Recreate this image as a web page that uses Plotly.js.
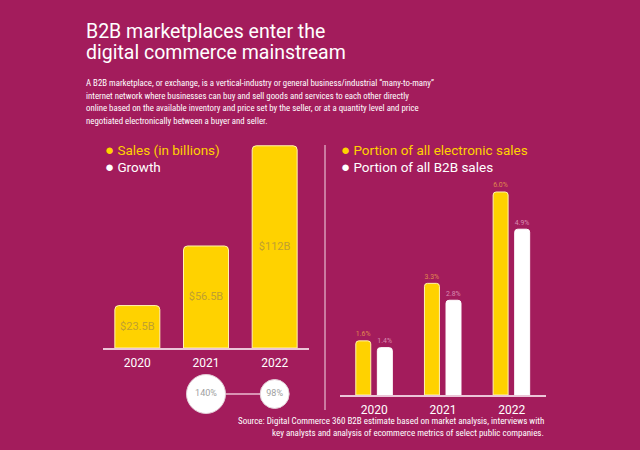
<!DOCTYPE html>
<html>
<head>
<meta charset="utf-8">
<script src="https://cdn.plot.ly/plotly-3.0.1.min.js"></script>
<style>
html,body{margin:0;padding:0;background:#A31C5C;}
#chart{width:640px;height:450px;}
</style>
</head>
<body>
<div id="chart"></div>
<script>
// ---- data (read / estimated from the picture) ----
const years = ['2020', '2021', '2022'];
const sales = [23.5, 56.5, 112];
const salesLabels = ['$23.5B', '$56.5B', '$112B'];
const growthYears = ['2021', '2022'];
const growth = [140, 98];
const growthLabels = ['140%', '98%'];
const elecShare = [1.6, 3.3, 6.0];
const elecLabels = ['1.6%', '3.3%', '6.0%'];
const b2bShare = [1.4, 2.8, 4.9];
const b2bLabels = ['1.4%', '2.8%', '4.9%'];

const titleLines = ['B2B marketplaces enter the', 'digital commerce mainstream'];
const descLines = [
  'A B2B marketplace, or exchange, is a vertical-industry or general business/industrial \u201cmany-to-many\u201d',
  'internet network where businesses can buy and sell goods and services to each other directly',
  'online based on the available inventory and price set by the seller, or at a quantity level and price',
  'negotiated electronically between a buyer and seller.'
];
const sourceLines = [
  'Source: Digital Commerce 360 B2B estimate based on market analysis, interviews with',
  'key analysts and analysis of ecommerce metrics of select public companies.'
];

// ---- style ----
const BG = '#A31C5C';
const YEL = '#FFD200';
const W = 640, H = 450;
const px = v => v / W;
const py = v => 1 - v / H;
const narrow = '"Liberation Sans Narrow", "Roboto Condensed", "DejaVu Sans Condensed", sans-serif';
const sans = 'Roboto, "Liberation Sans", sans-serif';

const traces = [
  {
    type: 'bar', x: years, y: sales, xaxis: 'x', yaxis: 'y',
    width: 0.655,
    marker: {color: YEL, line: {color: '#FFF3B0', width: 1}, cornerradius: 4},
    text: salesLabels, textposition: 'inside', insidetextanchor: 'middle',
    textfont: {color: '#BFA030', size: 11, family: sans},
    hoverinfo: 'skip', showlegend: false
  },
  {
    type: 'scatter', mode: 'lines+markers+text', x: growthYears, y: [0.5, 0.5],
    xaxis: 'x', yaxis: 'y3',
    line: {color: '#EBBBD1', width: 1.5},
    marker: {size: [39, 29], color: '#FFFFFF', opacity: 1, line: {color: '#E2CCD6', width: 1}},
    opacity: 1,
    text: growthLabels, textposition: 'middle center',
    textfont: {color: '#A0A0A0', size: 9, family: sans},
    customdata: growth,
    hoverinfo: 'skip', showlegend: false, cliponaxis: false
  },
  {
    type: 'bar', x: years, y: elecShare, xaxis: 'x2', yaxis: 'y2',
    width: 0.218, offset: -0.27,
    marker: {color: YEL, line: {color: '#FFF3B0', width: 1}, cornerradius: 3},
    text: elecLabels, textposition: 'outside',
    textfont: {color: '#E0884E', size: 9, family: sans},
    cliponaxis: false, hoverinfo: 'skip', showlegend: false
  },
  {
    type: 'bar', x: years, y: b2bShare, xaxis: 'x2', yaxis: 'y2',
    width: 0.218, offset: 0.044,
    marker: {color: '#FFFFFF', line: {color: '#FFFFFF', width: 1}, cornerradius: 3},
    text: b2bLabels, textposition: 'outside',
    textfont: {color: '#D98BB0', size: 9, family: sans},
    cliponaxis: false, hoverinfo: 'skip', showlegend: false
  }
];

const ann = [];
titleLines.forEach((t, i) => ann.push({
  text: t, xref: 'paper', yref: 'paper', x: px(84), y: py(31 + i * 22),
  xanchor: 'left', yanchor: 'middle', showarrow: false,
  font: {family: sans, size: 19.5, color: '#FFFFFF'}
}));
descLines.forEach((t, i) => ann.push({
  text: t, xref: 'paper', yref: 'paper', x: px(84), y: py(83 + i * 12.7),
  xanchor: 'left', yanchor: 'middle', showarrow: false,
  font: {family: narrow, size: 8.8, color: '#FFFFFF'}
}));
sourceLines.forEach((t, i) => ann.push({
  text: t, xref: 'paper', yref: 'paper', x: px(546), y: py(421 + i * 11.5),
  xanchor: 'right', yanchor: 'middle', showarrow: false,
  font: {family: narrow, size: 9, color: '#FFFFFF'}
}));
const legends = [
  {x: 103, y: 150, c: YEL, t: 'Sales (in billions)'},
  {x: 103, y: 167, c: '#FFFFFF', t: 'Growth'},
  {x: 339, y: 150, c: YEL, t: 'Portion of all electronic sales'},
  {x: 339, y: 167, c: '#FFFFFF', t: 'Portion of all B2B sales'}
];
legends.forEach(l => ann.push({
  text: '<span style="font-size:15px">\u25CF</span> ' + l.t,
  xref: 'paper', yref: 'paper', x: px(l.x), y: py(l.y),
  xanchor: 'left', yanchor: 'middle', showarrow: false,
  font: {family: sans, size: 13.5, color: l.c}
}));

const axisCommon = {
  type: 'category', range: [-0.5, 2.5], showline: true, linecolor: '#EBC6D8', linewidth: 1.5,
  ticks: '', showgrid: false, zeroline: false, fixedrange: true,
  tickfont: {family: sans, size: 12, color: '#FFFFFF'}, ticklabelstandoff: 3
};

const layout = {
  width: W, height: H,
  margin: {l: 0, r: 0, t: 0, b: 0},
  paper_bgcolor: BG, plot_bgcolor: BG,
  barmode: 'overlay',
  showlegend: false,
  xaxis: Object.assign({}, axisCommon, {domain: [px(103), px(309)], anchor: 'y'}),
  yaxis: {domain: [py(348), py(140)], range: [0, 115.2], visible: false, fixedrange: true},
  xaxis2: Object.assign({}, axisCommon, {domain: [px(340), px(546)], anchor: 'y2'}),
  yaxis2: {domain: [py(395), py(170)], range: [0, 6.65], visible: false, fixedrange: true},
  yaxis3: {domain: [py(406), py(382)], range: [0, 1], visible: false, anchor: 'x', fixedrange: true},
  shapes: [
    {type: 'line', xref: 'paper', yref: 'paper', x0: px(325), x1: px(325), y0: py(410), y1: py(145),
     line: {color: '#F3D9E5', width: 1}}
  ],
  annotations: ann
};

Plotly.newPlot('chart', traces, layout, {displayModeBar: false, staticPlot: true});
</script>
</body>
</html>
